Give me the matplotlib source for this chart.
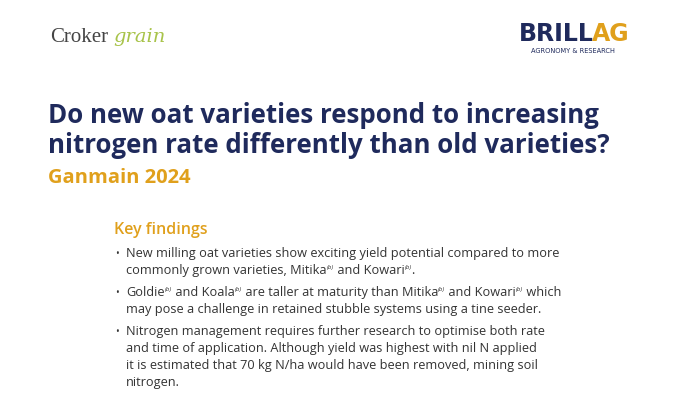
import matplotlib
matplotlib.use("Agg")
import matplotlib.pyplot as plt

title_lines = ["Do new oat varieties respond to increasing",
               "nitrogen rate differently than old varieties?"]
subtitle = "Ganmain 2024"
heading = "Key findings"
# "^" marks a superscript PBR symbol following the word
bullets = [
    ["New milling oat varieties show exciting yield potential compared to more",
     "commonly grown varieties, Mitika^ and Kowari^."],
    ["Goldie^ and Koala^ are taller at maturity than Mitika^ and Kowari^ which",
     "may pose a challenge in retained stubble systems using a tine seeder."],
    ["Nitrogen management requires further research to optimise both rate",
     "and time of application. Although yield was highest with nil N applied",
     "it is estimated that 70 kg N/ha would have been removed, mining soil",
     "nitrogen."],
]

W, H = 680, 402
fig = plt.figure(figsize=(W/100, H/100), dpi=100)
r = fig.canvas.get_renderer()
navy = "#1f2a5c"; orange = "#e0a01c"; grey = "#333333"
def T(x, y, s, **kw):
    return fig.text(x/W, 1-y/H, s, va='baseline', **kw)

def rich(x, y, s, fs):
    parts = s.split("^")
    for k, p in enumerate(parts):
        t = T(x, y, p, fontsize=fs, family="Open Sans", color=grey)
        x += t.get_window_extent(r).width
        if k < len(parts) - 1:
            t2 = T(x, y - 5, "(b)", fontsize=4.5, family="Open Sans", style="italic", color=grey)
            x += t2.get_window_extent(r).width

T(50, 42, "Croker", fontsize=15, family="Liberation Serif", color="#444444")
T(113, 42, "grain", fontsize=14, family="DejaVu Serif", style="italic", color="#a8c34a")
T(519, 41, "BRILL", fontsize=17, weight="bold", family="DejaVu Sans", color=navy)
T(592, 41, "AG", fontsize=17, weight="bold", family="DejaVu Sans", color=orange)
T(531, 53, "AGRONOMY & RESEARCH", fontsize=4.8, family="DejaVu Sans", color=navy)

for i, l in enumerate(title_lines):
    T(48, 123 + 30*i, l, fontsize=18.6, weight="bold", family="Open Sans", color=navy)
T(48, 183, subtitle, fontsize=14.5, weight="bold", family="Open Sans", color=orange)
T(114, 234, heading, fontsize=11.5, weight="semibold", family="Open Sans", color=orange)

ys = [257, 296, 335]
for y0, lines in zip(ys, bullets):
    T(115, y0, "•", fontsize=7, family="Open Sans", color=grey)
    for j, l in enumerate(lines):
        rich(126, y0 + 17*j, l, 9.2)

fig.savefig("out.png", dpi=100)
